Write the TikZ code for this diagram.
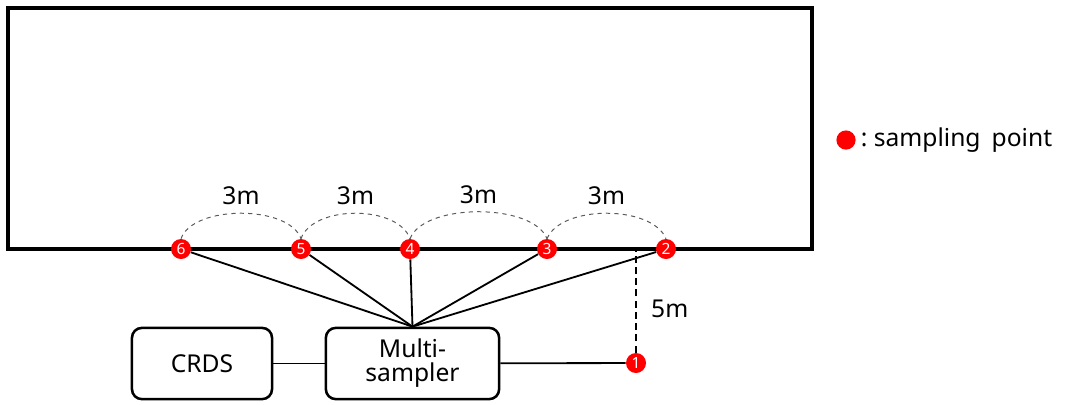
\documentclass[tikz,border=0pt]{standalone}
\usepackage{fontspec}
\setmainfont{Noto Sans}
\usepackage{tikz}
\usetikzlibrary{positioning,calc}
\definecolor{pointred}{RGB}{255,0,0}
\definecolor{arcgray}{RGB}{90,90,90}

\begin{document}
\begin{tikzpicture}[
  x=0.025cm, y=-0.025cm,
  hallbox/.style={draw, line width=2.8pt, minimum width=20.1cm, minimum height=6.03cm, inner sep=0pt},
  unit/.style={draw, line width=1.8pt, rounded corners=7pt, minimum height=1.78cm, align=center, font=\fontsize{17.5}{20}\selectfont, inner sep=2pt},
  spot/.style={circle, fill=pointred, minimum size=0.5cm, inner sep=0pt, text=white, font=\fontsize{11}{11}\selectfont},
  pipe/.style={line width=1.3pt},
  span/.style={dashed, arcgray, line width=0.7pt},
  dist/.style={text=black, font=\fontsize{17.5}{20}\selectfont}
]
\useasboundingbox (0,0) rectangle (1068,404);

\node[hallbox] (hall) at (410,128.5) {};

\node[spot] (p6) at (181,249) {6};
\node[spot] (p5) at (301,249) {5};
\node[spot] (p4) at (410,249) {4};
\node[spot] (p3) at (547,249) {3};
\node[spot] (p2) at (666,249) {2};
\node[spot] (p1) at (636,363) {1};

\node[unit, minimum width=4.33cm] (ms) at (412.5,363.5) {Multi-\\[-3pt]sampler};
\node[unit, minimum width=3.5cm] (crds) at (202,363.5) {CRDS};

% spacing between the points
\draw[span] (p6.north) .. controls +(12,-34) and +(-12,-34) .. (p5.north) node[dist, midway, above=2pt] {3m};
\draw[span] (p5.north) .. controls +(12,-34) and +(-12,-34) .. (p4.north) node[dist, midway, above=2pt] {3m};
\draw[span] (p4.north) .. controls +(14,-36) and +(-14,-36) .. (p3.north) node[dist, midway, above=2pt] {3m};
\draw[span] (p3.north) .. controls +(14,-34) and +(-14,-34) .. (p2.north) node[dist, midway, above=2pt] {3m};

% sample lines
\foreach \p in {p6,p5,p4,p3,p2}
  \draw[pipe] (\p) -- (ms.north);
\draw[pipe] (crds) -- (ms);
\draw[pipe] (ms) -- (p1);
\draw[dash pattern=on 5pt off 3pt, line width=1pt] (p1) -- (p1 |- hall.south) node[dist, midway, right=7pt, yshift=-5pt] {5m};

% legend
\node[spot, minimum size=0.48cm] (key) at (846,140) {};
\node[dist, right=0pt of key] (keytext) {:~sampling\hspace{0.45em}point};
\end{tikzpicture}
\end{document}
